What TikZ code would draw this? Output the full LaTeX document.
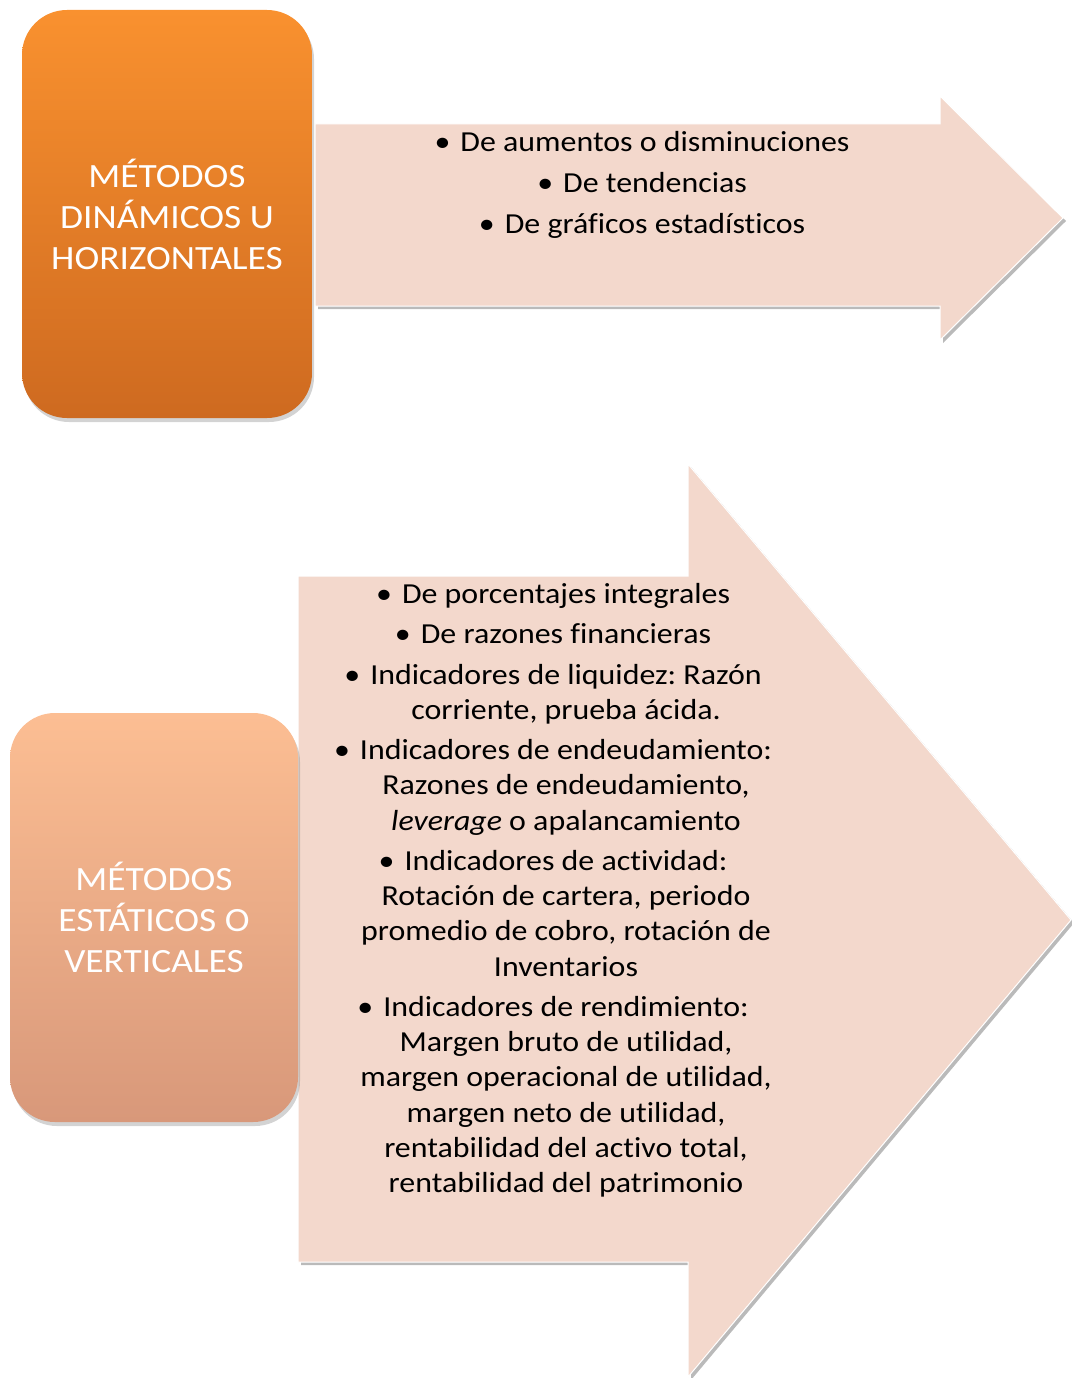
\documentclass[tikz,border=0pt]{standalone}
\usepackage{fontspec}
\setmainfont[FakeStretch=1.1, Ligatures=NoCommon]{Carlito}
\usetikzlibrary{shadows}
\frenchspacing

\definecolor{arrowfill}{HTML}{F3D8CC}
\definecolor{dyntop}{HTML}{F9912F}
\definecolor{dynbottom}{HTML}{CE6A20}
\definecolor{stattop}{HTML}{FCBE93}
\definecolor{statbottom}{HTML}{D8987A}

\newcommand{\itm}{\llap{\textbullet\hspace{10pt}}}
\newcommand{\boxlines}[1]{\raisebox{4pt}{\parbox[c]{280pt}{\centering #1}}}

\tikzset{
    methodbox/.style={rounded corners=45pt, text=white,
        font=\fontsize{34}{41}\selectfont, inner sep=0pt,
        drop shadow={shadow xshift=2pt, shadow yshift=-4pt, opacity=.35}},
    bigarrow/.style={fill=arrowfill, draw=white, line width=1pt,
        drop shadow={shadow xshift=3pt, shadow yshift=-3pt, fill=black!60, opacity=.45}},
    itemtext/.style={align=center, font=\fontsize{29}{35.2}\selectfont,
        inner sep=0pt, anchor=north},
}

\begin{document}
\begin{tikzpicture}[x=1pt, y=-1pt]
    \useasboundingbox (0,0) rectangle (1071,1378);

    % Arrows.
    \path[bigarrow] (315,124) -- (940,124) -- (940,96) -- (1063,218)
        -- (940,340) -- (940,306) -- (315,306) -- cycle;
    \path[bigarrow] (298,576) -- (688,576) -- (688,464) -- (1071,920)
        -- (688,1377) -- (688,1262) -- (298,1262) -- cycle;

    % Method boxes.
    \node[methodbox, minimum width=290pt, minimum height=408pt,
        top color=dyntop, bottom color=dynbottom] (dinamicos) at (167,214)
        {\boxlines{MÉTODOS\\ DINÁMICOS U\\ HORIZONTALES}};
    \node[methodbox, minimum width=288pt, minimum height=409pt,
        top color=stattop, bottom color=statbottom] (estaticos) at (154,917.5)
        {\boxlines{MÉTODOS\\ ESTÁTICOS O\\ VERTICALES}};

    % Horizontal items.
    \node[itemtext] (horizontales) at (655,131) {%
        \itm De aumentos o disminuciones\\[5.8pt]
        \itm De tendencias\\[5.8pt]
        \itm De gráficos estadísticos};

    % Vertical items.
    \node[itemtext] (verticales) at (566,583) {%
        \itm De porcentajes integrales\\[5.2pt]
        \itm De razones financieras\\[5.2pt]
        \itm Indicadores de liquidez: Razón\\
        corriente, prueba ácida.\\[5.2pt]
        \itm Indicadores de endeudamiento:\\
        Razones de endeudamiento,\\
        \textit{leverage} o apalancamiento\\[5.2pt]
        \itm Indicadores de actividad:\\
        Rotación de cartera, periodo\\
        promedio de cobro, rotación de\\
        Inventarios\\[5.2pt]
        \itm Indicadores de rendimiento:\\
        Margen bruto de utilidad,\\
        margen operacional de utilidad,\\
        margen neto de utilidad,\\
        rentabilidad del activo total,\\
        rentabilidad del patrimonio};

\end{tikzpicture}
\end{document}
